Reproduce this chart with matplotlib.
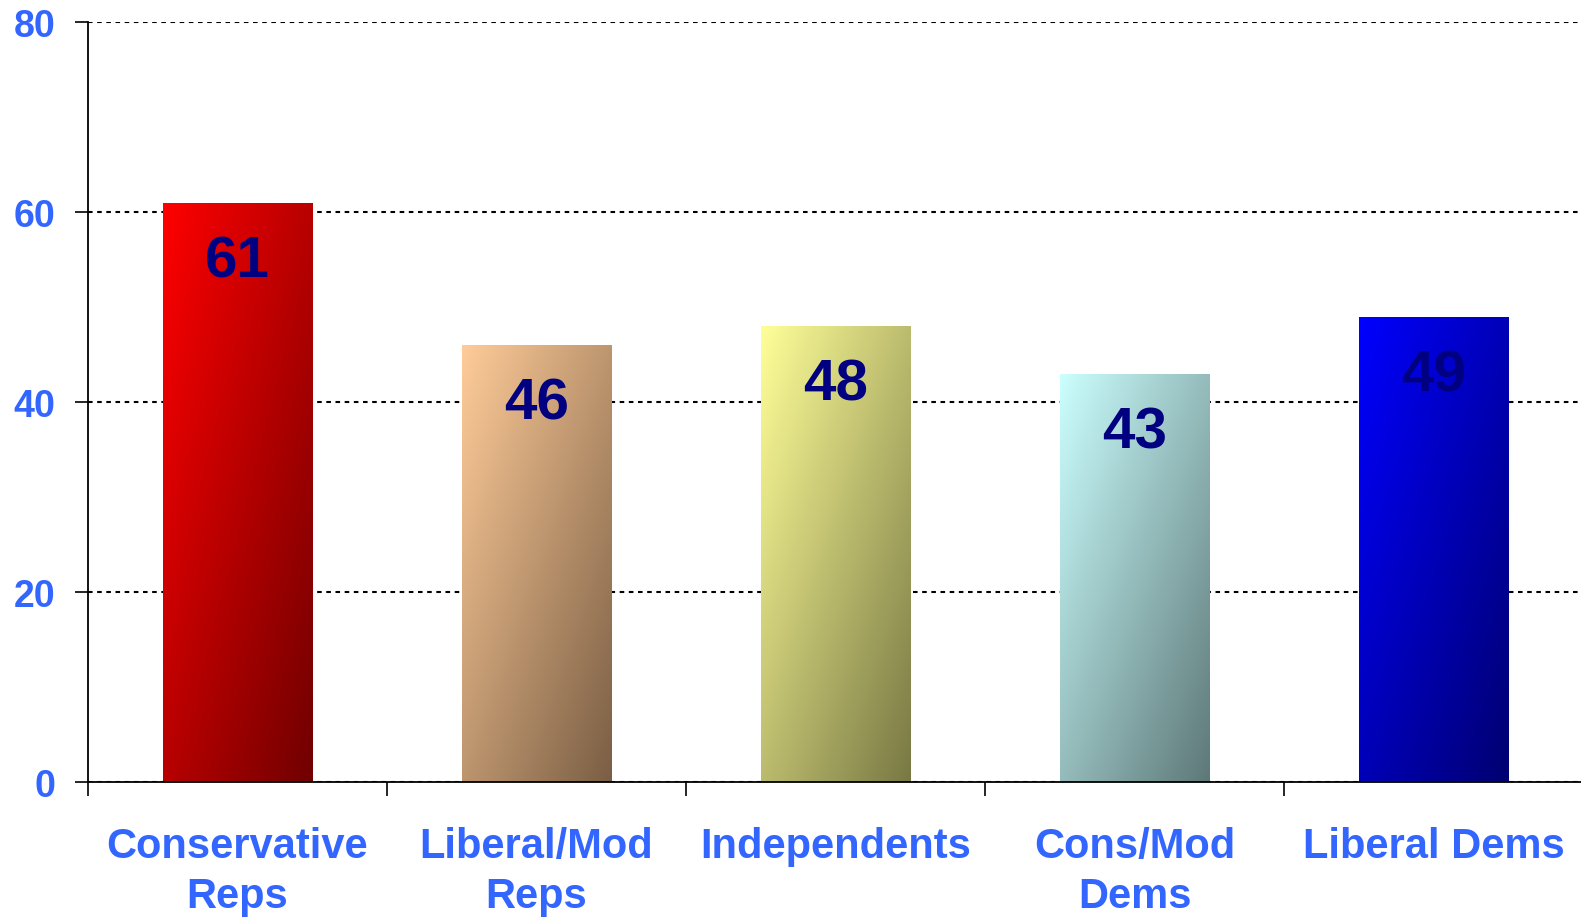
import numpy as np
import matplotlib
matplotlib.use("Agg")
import matplotlib.pyplot as plt
from matplotlib.colors import to_rgb

categories = ["Conservative\nReps", "Liberal/Mod\nReps", "Independents", "Cons/Mod\nDems", "Liberal Dems"]
values = [61, 46, 48, 43, 49]
light_colors = ["#FF0000", "#FFCC99", "#FFFF99", "#CCFFFF", "#0000FF"]
dark_colors = ["#700000", "#7A5E44", "#787844", "#5E7878", "#000070"]
y_ticks = [0, 20, 40, 60, 80]

plt.rcParams["font.family"] = ["Liberation Sans", "DejaVu Sans"]
plt.rcParams["font.weight"] = "bold"

fig = plt.figure(figsize=(15.81, 9.2), dpi=100)
ax = fig.add_axes([0.0557, 0.1489, 0.9456, 0.8256])

x = np.arange(len(categories))
bar_width = 0.5
bars = ax.bar(x, values, width=bar_width, color="none", edgecolor="none", zorder=3)

# diagonal gradient, light at top-left to dark at bottom-right
n = 200
u = np.linspace(0, 1, n)
uu, vv = np.meshgrid(u, u)
t = 0.5 * uu + 0.5 * vv  # row 0 = top
for rect, c1, c2 in zip(bars, light_colors, dark_colors):
    a = np.array(to_rgb(c1))
    b = np.array(to_rgb(c2))
    img = a[None, None, :] * (1 - t[..., None]) + b[None, None, :] * t[..., None]
    x0 = rect.get_x()
    x1 = x0 + rect.get_width()
    im = ax.imshow(img, extent=[x0, x1, 0, rect.get_height()], origin="upper",
                   aspect="auto", zorder=3, interpolation="bilinear")
    im.set_clip_path(rect)

for xi, v in zip(x, values):
    ax.annotate(str(v), xy=(xi, v), xytext=(0, -42), textcoords="offset points",
                ha="center", va="center", fontsize=42, fontweight="bold",
                color="#000080", zorder=4)

ax.set_xlim(-0.5, len(categories) - 0.5)
ax.set_ylim(0, 80)
ax.set_yticks(y_ticks)
ax.set_yticklabels([str(v) for v in y_ticks])
ax.set_xticks(x)
ax.set_xticklabels(categories, linespacing=1.32)
ax.set_xticks(np.arange(len(categories)) - 0.5, minor=True)

ax.tick_params(axis="x", which="major", length=0, pad=32, labelsize=30,
               labelcolor="#3366FF")
ax.tick_params(axis="x", which="minor", length=10, width=1.2, direction="out")
ax.tick_params(axis="y", length=9.5, width=1.2, direction="out", pad=14,
               labelsize=27, labelcolor="#3366FF")
for lbl in ax.get_xticklabels() + ax.get_yticklabels():
    lbl.set_fontweight("bold")

ax.yaxis.grid(True, linestyle=(0, (2.2, 2.2)), color="black", linewidth=1.5, zorder=1)
ax.set_axisbelow(True)
for side in ["top", "right"]:
    ax.spines[side].set_visible(False)
ax.spines["left"].set_linewidth(1.3)
ax.spines["bottom"].set_linewidth(1.3)
ax.spines["left"].set_zorder(5)
ax.spines["bottom"].set_zorder(5)

fig.savefig("out.png", dpi=100)
